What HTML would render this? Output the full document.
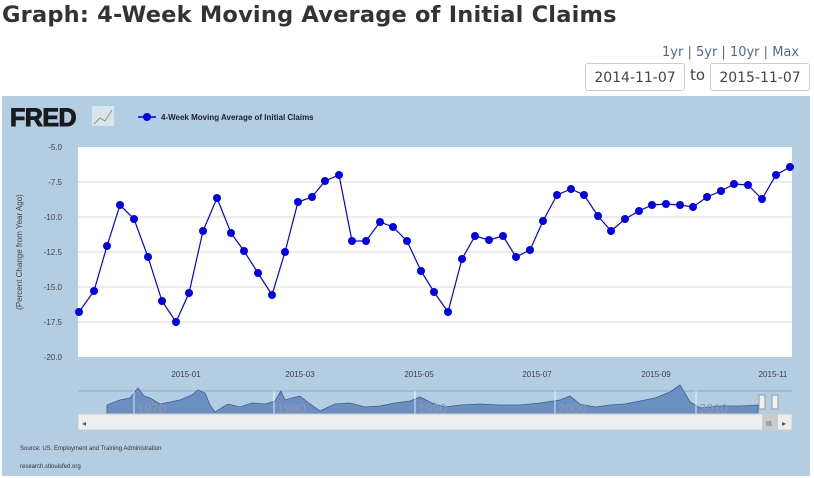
<!DOCTYPE html>
<html><head><style>
body{margin:0;width:814px;height:478px;background:#fff;font-family:"DejaVu Sans","Liberation Sans",sans-serif;position:relative;overflow:hidden}
.t{position:absolute;left:2px;top:2px;font-size:22.5px;font-weight:bold;color:#333;letter-spacing:0.2px}
.l{position:absolute;top:45px;font-size:13px;color:#4a6a9a}
.in{position:absolute;top:63px;height:28px;border:1px solid #ccc;border-radius:3px;font-size:14px;color:#444;line-height:28px;text-align:center;box-sizing:border-box}
</style></head><body>
<div class="t">Graph: 4-Week Moving Average of Initial Claims</div>
<div class="l" style="left:662px">1yr&nbsp;<span style="color:#666">|</span>&nbsp;5yr&nbsp;<span style="color:#666">|</span>&nbsp;10yr&nbsp;<span style="color:#666">|</span>&nbsp;Max</div>
<div class="in" style="left:585px;width:100px">2014-11-07</div>
<div style="position:absolute;left:690px;top:66px;font-size:15px;color:#444">to</div>
<div class="in" style="left:710px;width:100px">2015-11-07</div>
<svg style="position:absolute;left:0;top:0" width="814" height="478" font-family="Liberation Sans, sans-serif">
<rect x="2" y="96" width="808" height="380" fill="#b3cde3"/>
<text x="10" y="126" font-size="25" font-weight="900" fill="#1a1a1a" stroke="#1a1a1a" stroke-width="1" font-family="Liberation Sans" letter-spacing="-0.5">FRED</text>
<rect x="92" y="106" width="22" height="20" fill="#d8e4ee"/>
<polyline points="94,124 100,118 105,121 112,110" fill="none" stroke="#8a9a6a" stroke-width="1"/>
<line x1="138" y1="117" x2="156" y2="117" stroke="#0000ee" stroke-width="1.5"/><circle cx="147" cy="117" r="4" fill="#0000ee"/>
<text x="161" y="120" font-size="8" font-weight="bold" fill="#222">4-Week Moving Average of Initial Claims</text>
<rect x="78" y="147" width="714" height="210" fill="#fff"/>
<g stroke="#d8d8d8" stroke-width="1">
<line x1="78" y1="182" x2="792" y2="182"/><line x1="78" y1="217" x2="792" y2="217"/><line x1="78" y1="252" x2="792" y2="252"/><line x1="78" y1="287" x2="792" y2="287"/><line x1="78" y1="322" x2="792" y2="322"/></g>
<g font-size="8" fill="#444" text-anchor="end">
<text x="62" y="150">-5.0</text><text x="62" y="185">-7.5</text><text x="62" y="220">-10.0</text><text x="62" y="255">-12.5</text><text x="62" y="290">-15.0</text><text x="62" y="325">-17.5</text><text x="62" y="360">-20.0</text></g>
<text transform="translate(22,252) rotate(-90)" font-size="8" fill="#444" text-anchor="middle">(Percent Change from Year Ago)</text>
<g font-size="8" fill="#444" text-anchor="middle">
<text x="186" y="377">2015-01</text><text x="300" y="377">2015-03</text><text x="419" y="377">2015-05</text><text x="537" y="377">2015-07</text><text x="656" y="377">2015-09</text><text x="773" y="377">2015-11</text></g>
<polyline fill="none" stroke="#0000ee" stroke-width="1.2" points="79,312 94,291 107,246 120,205 134,219 148,257 162,301 176,322 189,293 203,231 217,198 231,233 244,251 258,273 272,295 285,252 298,202 312,197 325,181 339,175 352,241 366,241 380,222 393,227 407,241 421,271 434,292 448,312 462,259 475,236 489,240 503,236 516,257 530,250 543,221 557,195 571,189 584,195 598,216 611,231 625,219 639,211 652,205 666,204 680,205 693,207 707,197 721,191 734,184 748,185 762,199 776,175 790,167"/>
<g fill="#0000ee">
<circle cx="79" cy="312" r="4"/><circle cx="94" cy="291" r="4"/><circle cx="107" cy="246" r="4"/><circle cx="120" cy="205" r="4"/><circle cx="134" cy="219" r="4"/><circle cx="148" cy="257" r="4"/><circle cx="162" cy="301" r="4"/><circle cx="176" cy="322" r="4"/><circle cx="189" cy="293" r="4"/><circle cx="203" cy="231" r="4"/><circle cx="217" cy="198" r="4"/><circle cx="231" cy="233" r="4"/><circle cx="244" cy="251" r="4"/><circle cx="258" cy="273" r="4"/><circle cx="272" cy="295" r="4"/><circle cx="285" cy="252" r="4"/><circle cx="298" cy="202" r="4"/><circle cx="312" cy="197" r="4"/><circle cx="325" cy="181" r="4"/><circle cx="339" cy="175" r="4"/><circle cx="352" cy="241" r="4"/><circle cx="366" cy="241" r="4"/><circle cx="380" cy="222" r="4"/><circle cx="393" cy="227" r="4"/><circle cx="407" cy="241" r="4"/><circle cx="421" cy="271" r="4"/><circle cx="434" cy="292" r="4"/><circle cx="448" cy="312" r="4"/><circle cx="462" cy="259" r="4"/><circle cx="475" cy="236" r="4"/><circle cx="489" cy="240" r="4"/><circle cx="503" cy="236" r="4"/><circle cx="516" cy="257" r="4"/><circle cx="530" cy="250" r="4"/><circle cx="543" cy="221" r="4"/><circle cx="557" cy="195" r="4"/><circle cx="571" cy="189" r="4"/><circle cx="584" cy="195" r="4"/><circle cx="598" cy="216" r="4"/><circle cx="611" cy="231" r="4"/><circle cx="625" cy="219" r="4"/><circle cx="639" cy="211" r="4"/><circle cx="652" cy="205" r="4"/><circle cx="666" cy="204" r="4"/><circle cx="680" cy="205" r="4"/><circle cx="693" cy="207" r="4"/><circle cx="707" cy="197" r="4"/><circle cx="721" cy="191" r="4"/><circle cx="734" cy="184" r="4"/><circle cx="748" cy="185" r="4"/><circle cx="762" cy="199" r="4"/><circle cx="776" cy="175" r="4"/><circle cx="790" cy="167" r="4"/></g>
<line x1="78" y1="391" x2="792" y2="391" stroke="#8aa8c8"/>
<path d="M107,414 L107,405 120,400 130,398 138,388 144,396 150,398 160,404 180,400 192,395 198,390 205,393 210,405 215,412 228,404 240,407 252,403 265,404 275,401 281,391 285,400 292,398 300,396 310,404 320,411 335,404 350,403 365,407 380,406 395,403 410,401 420,397 432,403 445,407 460,405 480,404 500,405 520,405 540,403 560,400 570,396 580,404 595,407 610,405 625,404 640,401 655,398 670,392 680,385 690,402 700,408 720,406 740,406 758,405 758,414 Z" fill="#6a8fc0" stroke="#3a5f90" stroke-width="0.8"/>
<g stroke="#fff" stroke-width="0.8"><line x1="134" y1="391" x2="134" y2="414"/><line x1="274" y1="391" x2="274" y2="414"/><line x1="415" y1="391" x2="415" y2="414"/><line x1="555" y1="391" x2="555" y2="414"/><line x1="696" y1="391" x2="696" y2="414"/></g>
<g font-size="13" fill="#8a9ab0"><text x="137" y="413">1970</text><text x="277" y="413">1980</text><text x="418" y="413">1990</text><text x="558" y="413">2000</text><text x="699" y="413">2010</text></g>
<rect x="759" y="395" width="6" height="14" fill="#f0f0f0" stroke="#999"/><rect x="772" y="395" width="6" height="14" fill="#f0f0f0" stroke="#999"/>
<rect x="78" y="414" width="714" height="16" fill="#eee" stroke="#ccc"/>
<rect x="762" y="414" width="16" height="16" fill="#ccc"/>
<text x="82" y="426" font-size="8" fill="#555">◂</text><text x="782" y="426" font-size="8" fill="#555">▸</text>
<text x="766" y="426" font-size="7" fill="#555">III</text>
<text x="20" y="450" font-size="6" fill="#333">Source: US. Employment and Training Administration</text>
<text x="20" y="468" font-size="6" fill="#333">research.stlouisfed.org</text>
</svg>
</body></html>
